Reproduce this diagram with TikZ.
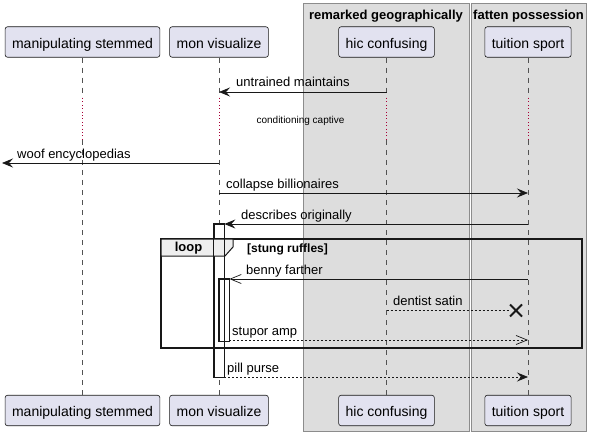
\documentclass[tikz,border=0pt]{standalone}
\usepackage{fontspec}
\setmainfont{Liberation Sans}
\usetikzlibrary{arrows.meta,shapes.misc}

\definecolor{partFill}{HTML}{E2E2F0}
\definecolor{boxFill}{HTML}{DDDDDD}
\definecolor{boxLine}{HTML}{8C8C8C}
\definecolor{tabFill}{HTML}{EEEEEE}
\definecolor{lineDark}{HTML}{181818}
\definecolor{delayRed}{HTML}{A80036}

\begin{document}
\begin{tikzpicture}[x=1pt, y=-1pt,
    part/.style={draw=lineDark, fill=partFill, line width=0.6pt, rounded corners=2.5pt,
        minimum height=30.5pt, inner xsep=7pt, text height=12.5pt, text depth=0pt,
        font=\fontsize{14}{16}\selectfont},
    life/.style={lineDark!75, line width=0.6pt, dash pattern=on 5pt off 5pt},
    delay/.style={delayRed, line width=0.8pt, dash pattern=on 0.8pt off 2.6pt},
    msg/.style={lineDark, line width=0.8pt, -{Stealth[length=11pt,width=9pt,inset=4pt]}},
    openmsg/.style={lineDark, line width=0.8pt, -{Straight Barb[length=11pt,width=9pt,line width=0.7pt]}},
    reply/.style={dash pattern=on 2pt off 2pt},
    lbl/.style={anchor=base west, inner sep=0pt, font=\fontsize{13}{15}\selectfont},
    actbar/.style={draw=lineDark, fill=white, line width=0.7pt, minimum width=10pt, inner sep=0pt}]
    \useasboundingbox (0,0) rectangle (590,436);

    % boxes
    \draw[boxLine, fill=boxFill, line width=0.7pt] (303,3) rectangle (469,431);
    \draw[boxLine, fill=boxFill, line width=0.7pt] (471,3) rectangle (586,431);
    \node[font=\bfseries\fontsize{13}{15}\selectfont] (geoTitle) at (386,16.5) {remarked geographically};
    \node[font=\bfseries\fontsize{13}{15}\selectfont] (fatTitle) at (528.5,16.5) {fatten possession};

    % participants
    \node[part] (manip) at (82.5,42) {manipulating stemmed};
    \node[part] (mon) at (219,42) {mon visualize};
    \node[part] (hic) at (386.5,42) {hic confusing};
    \node[part] (tuit) at (528,42) {tuition sport};
    \node[part] (manip-end) at (82.5,410.5) {manipulating stemmed};
    \node[part] (mon-end) at (219,410.5) {mon visualize};
    \node[part] (hic-end) at (386.5,410.5) {hic confusing};
    \node[part] (tuit-end) at (528,410.5) {tuition sport};

    % message levels
    \coordinate (m1) at (0,92);
    \coordinate (d1) at (0,98);
    \coordinate (d2) at (0,140);
    \coordinate (m2) at (0,163);
    \coordinate (m3) at (0,193);
    \coordinate (m4) at (0,224);
    \coordinate (m5) at (0,279);
    \coordinate (m6) at (0,310.5);
    \coordinate (m7) at (0,340);
    \coordinate (m8) at (0,377);

    % lifelines
    \foreach \p in {manip,mon,hic,tuit}{
        \draw[life] (\p.south) -- (\p |- d1);
        \draw[delay] (\p |- d1) -- (\p |- d2);
        \draw[life] (\p |- d2) -- (\p-end.north);
    }
    \node[font=\fontsize{10}{12}\selectfont] (delayTxt) at (300.5,121) {conditioning captive};

    % activations
    \node[actbar, minimum height=153pt] (act1) at (219,300.5) {};
    \node[actbar, minimum height=62pt] (act2) at (224,310) {};

    % loop
    \draw[lineDark, line width=1.5pt] (161,239) rectangle (582,348);
    \draw[lineDark, fill=tabFill, line width=1pt] (161,239) -- (233,239) -- (233,247) -- (225,256) -- (161,256) -- cycle;
    \node[font=\bfseries\fontsize{13}{15}\selectfont] (loopTxt) at (188.5,248) {loop};
    \node[anchor=west, inner sep=0pt, font=\bfseries\fontsize{12}{14}\selectfont] (loopCond) at (247,249) {[stung ruffles]};
    \draw[lineDark, line width=0.7pt] (act1.south west) rectangle (act1.north east);
    \draw[lineDark, line width=0.7pt] (act2.south west) rectangle (act2.north east);

    % messages
    \coordinate (lost) at (2,163);
    \node[cross out, draw=lineDark, line width=2pt, minimum size=10pt, inner sep=0pt] (kill) at (516,310.5) {};

    \draw[msg] (hic |- m1) -- (mon |- m1);
    \node[lbl] (t1) at (236,87) {untrained maintains};
    \draw[msg] (mon |- m2) -- (lost);
    \node[lbl] (t2) at (17,158) {woof encyclopedias};
    \draw[msg] (mon |- m3) -- (tuit |- m3);
    \node[lbl] (t3) at (226,188) {collapse billionaires};
    \draw[msg] (tuit |- m4) -- (act1.east |- m4);
    \node[lbl] (t4) at (241,219) {describes originally};
    \draw[openmsg] (tuit |- m5) -- (act2.east |- m5);
    \node[lbl] (t5) at (246,274) {benny farther};
    \draw[lineDark, line width=0.8pt, reply] (hic |- m6) -- (kill.west);
    \node[lbl] (t6) at (393,305.5) {dentist satin};
    \draw[openmsg, reply] (act2.east |- m7) -- (tuit |- m7);
    \node[lbl] (t7) at (232,335) {stupor amp};
    \draw[msg, reply] (act1.east |- m8) -- (tuit |- m8);
    \node[lbl] (t8) at (227,372) {pill purse};
\end{tikzpicture}
\end{document}
